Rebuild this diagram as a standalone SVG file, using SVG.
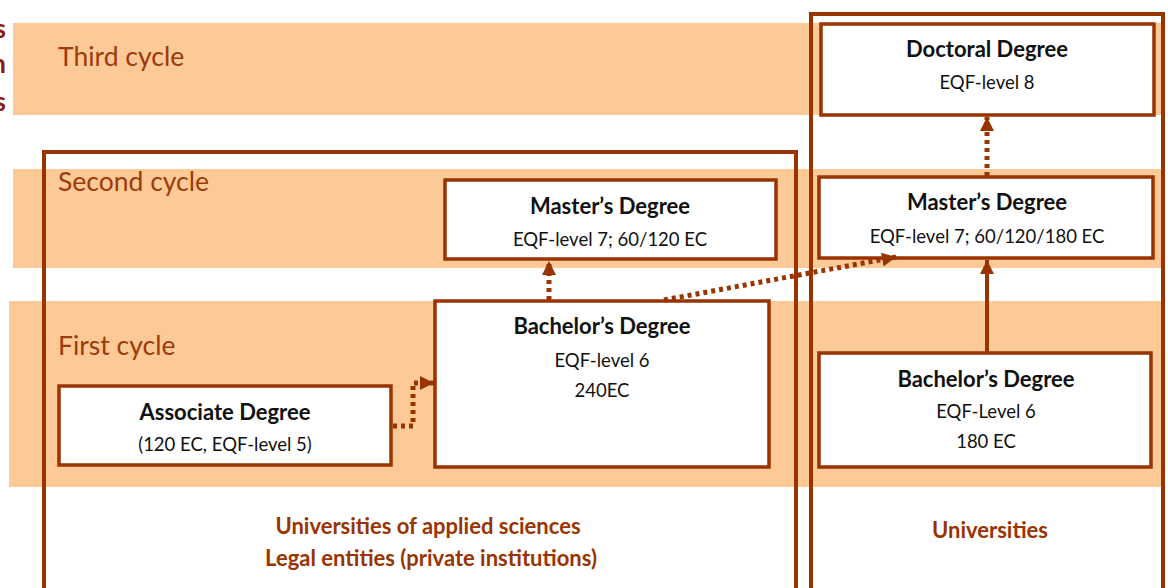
<svg xmlns="http://www.w3.org/2000/svg" width="1168" height="588" viewBox="0 0 1168 588">
<defs>
<style>
.band{fill:#FDCA97}
.frame{fill:none;stroke:#993300;stroke-width:4}
.box{fill:#fff;stroke:#993300;stroke-width:3.5}
.t{font-family:Lato,"Liberation Sans",sans-serif;text-anchor:middle;fill:#111}
.h{font-size:22px;font-weight:bold}
.s{font-size:18.5px}
.cyc{font-family:Lato,"Liberation Sans",sans-serif;font-size:26.5px;fill:#9C3B0B}
.inst{font-family:Lato,"Liberation Sans",sans-serif;font-size:22px;font-weight:bold;fill:#993300;text-anchor:middle}
.cut{font-family:Lato,"Liberation Sans",sans-serif;font-size:26px;font-weight:bold;fill:#8B1A10;text-anchor:end}
.dot{fill:none;stroke:#993300;stroke-width:5;stroke-dasharray:4 4}
.solid{fill:none;stroke:#993300;stroke-width:4}
</style>
<marker id="ah" viewBox="0 0 10 10" refX="10" refY="5" markerWidth="14" markerHeight="14" markerUnits="userSpaceOnUse" orient="auto">
<path d="M0,0 L10,5 L0,10 z" fill="#993300"/>
</marker>
</defs>

<g id="bands">
<rect class="band" x="13" y="23" width="1150" height="92"/>
<rect class="band" x="13" y="169" width="1150" height="99"/>
<rect class="band" x="9" y="301" width="1152" height="186"/>
</g>

<g id="cut-labels">
<text class="cut" x="6" y="38">s</text>
<text class="cut" x="6" y="73">n</text>
<text class="cut" x="6" y="111">s</text>
</g>

<g id="cycle-labels">
<text class="cyc" x="58" y="66">Third cycle</text>
<text class="cyc" x="58" y="191">Second cycle</text>
<text class="cyc" x="58" y="355">First cycle</text>
</g>

<g id="uas-frame">
<rect class="frame" x="44" y="152" width="752" height="440"/>
<text class="inst" x="428" y="534">Universities of applied sciences</text>
<text class="inst" x="431" y="566">Legal entities (private institutions)</text>
</g>

<g id="univ-frame">
<rect class="frame" x="811" y="14" width="352" height="580"/>
<text class="inst" x="990" y="538">Universities</text>
</g>

<g id="doctoral">
<rect class="box" x="821" y="24" width="333" height="91"/>
<text class="t h" x="987" y="57">Doctoral Degree</text>
<text class="t s" x="987" y="89">EQF-level 8</text>
</g>

<g id="master-univ">
<rect class="box" x="819" y="177" width="334" height="81"/>
<text class="t h" x="987" y="210">Master’s Degree</text>
<text class="t s" x="987" y="243">EQF-level 7; 60/120/180 EC</text>
</g>

<g id="bachelor-univ">
<rect class="box" x="819" y="353" width="332" height="114"/>
<text class="t h" x="986" y="387">Bachelor’s Degree</text>
<text class="t s" x="986" y="418">EQF-Level 6</text>
<text class="t s" x="986" y="448">180 EC</text>
</g>

<g id="master-uas">
<rect class="box" x="445" y="180" width="331" height="79"/>
<text class="t h" x="610" y="214">Master’s Degree</text>
<text class="t s" x="610" y="246">EQF-level 7; 60/120 EC</text>
</g>

<g id="bachelor-uas">
<rect class="box" x="435" y="301" width="334" height="166"/>
<text class="t h" x="602" y="334">Bachelor’s Degree</text>
<text class="t s" x="602" y="367">EQF-level 6</text>
<text class="t s" x="602" y="397">240EC</text>
</g>

<g id="associate">
<rect class="box" x="59" y="386" width="332" height="79"/>
<text class="t h" x="225" y="420">Associate Degree</text>
<text class="t s" x="225" y="451">(120 EC, EQF-level 5)</text>
</g>

<g id="connectors">
<path class="dot" d="M549,300 L549,261" marker-end="url(#ah)"/>
<path class="dot" d="M664,300 L896,257" marker-end="url(#ah)"/>
<path class="dot" d="M987,176 L987,117" marker-end="url(#ah)"/>
<path class="solid" d="M987,352 L987,260" marker-end="url(#ah)"/>
<path class="dot" d="M393,426 L413,426 L413,383 L434,383" marker-end="url(#ah)"/>
</g>
</svg>
